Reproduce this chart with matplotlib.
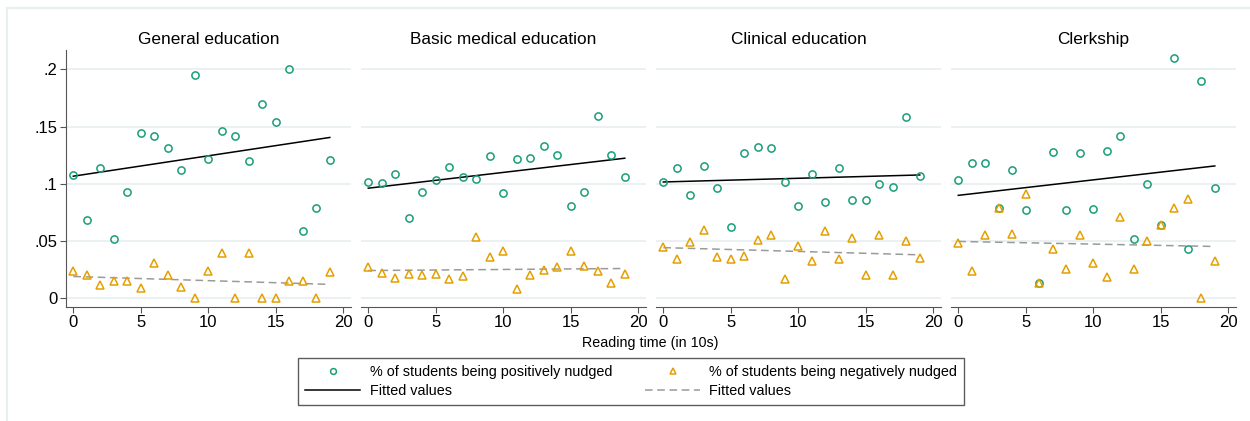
import numpy as np
import matplotlib
matplotlib.use('Agg')
from matplotlib import pyplot as plt
from matplotlib.lines import Line2D

plt.rcParams['font.family'] = ['Liberation Sans', 'DejaVu Sans']

panel_titles = ['General education', 'Basic medical education', 'Clinical education', 'Clerkship']
reading_time = np.arange(20)

pos_general = [0.108, 0.068, 0.114, 0.052, 0.093, 0.144, 0.142, 0.131, 0.112, 0.195,
               0.122, 0.146, 0.142, 0.120, 0.170, 0.154, 0.200, 0.059, 0.079, 0.121]
neg_general = [0.024, 0.020, 0.012, 0.015, 0.015, 0.009, 0.031, 0.020, 0.010, 0.000,
               0.024, 0.040, 0.000, 0.040, 0.000, 0.000, 0.015, 0.015, 0.000, 0.023]

pos_basic = [0.102, 0.101, 0.109, 0.070, 0.093, 0.103, 0.115, 0.106, 0.104, 0.124,
             0.092, 0.122, 0.123, 0.133, 0.125, 0.081, 0.093, 0.159, 0.125, 0.106]
neg_basic = [0.027, 0.022, 0.018, 0.021, 0.020, 0.021, 0.017, 0.0195, 0.054, 0.036,
             0.041, 0.008, 0.020, 0.025, 0.027, 0.041, 0.028, 0.024, 0.013, 0.021]

pos_clinical = [0.102, 0.114, 0.090, 0.116, 0.096, 0.062, 0.127, 0.132, 0.131, 0.102,
                0.081, 0.109, 0.084, 0.114, 0.086, 0.086, 0.100, 0.097, 0.158, 0.107]
neg_clinical = [0.045, 0.034, 0.049, 0.060, 0.036, 0.034, 0.037, 0.051, 0.055, 0.017,
                0.046, 0.033, 0.059, 0.034, 0.053, 0.020, 0.055, 0.020, 0.050, 0.035]

pos_clerkship = [0.103, 0.118, 0.118, 0.079, 0.112, 0.077, 0.013, 0.128, 0.077, 0.127,
                 0.078, 0.129, 0.142, 0.052, 0.100, 0.064, 0.210, 0.043, 0.190, 0.096]
neg_clerkship = [0.048, 0.024, 0.055, 0.079, 0.056, 0.091, 0.013, 0.043, 0.026, 0.055,
                 0.031, 0.019, 0.071, 0.026, 0.050, 0.064, 0.079, 0.087, 0.000, 0.033]

positives = [pos_general, pos_basic, pos_clinical, pos_clerkship]
negatives = [neg_general, neg_basic, neg_clinical, neg_clerkship]

y_ticks = [0, 0.05, 0.1, 0.15, 0.2]
y_tick_labels = ['0', '.05', '.1', '.15', '.2']
x_ticks = [0, 5, 10, 15, 20]

green = '#1a9e77'
orange = '#e69f00'
grid_color = '#e8eff1'

W, H = 1250, 421
fig = plt.figure(figsize=(W / 100, H / 100), dpi=100)
fig.patch.set_facecolor('white')

# light outer frame (only top/left visible in the crop)
fig.add_artist(Line2D([7 / W, 1.0], [1 - 8 / H, 1 - 8 / H], color=grid_color, lw=1.5))
fig.add_artist(Line2D([7 / W, 7 / W], [0, 1 - 8 / H], color=grid_color, lw=1.5))

for i in range(4):
    left = (66 + 295 * i) / W
    ax = fig.add_axes([left, (H - 306.7) / H, 285 / W, 256.7 / H])
    ax.set_xlim(-0.54, 20.57)
    ax.set_ylim(-0.0073, 0.2169)

    for yv in y_ticks:
        ax.axhline(yv, color=grid_color, lw=1.2, zorder=0)

    x = reading_time
    yp = np.array(positives[i])
    yn = np.array(negatives[i])

    ax.plot(x, yp, 'o', mfc='none', mec=green, mew=1.1, ms=5.2, zorder=3)
    ax.plot(x, yn, '^', mfc='none', mec=orange, mew=1.1, ms=5.8, zorder=3)

    bp = np.polyfit(x, yp, 1)
    bn = np.polyfit(x, yn, 1)
    ax.plot(x, np.polyval(bp, x), color='black', lw=1.1, zorder=2)
    ax.plot(x, np.polyval(bn, x), color='#9a9a9a', lw=1.1, dashes=(5, 3), zorder=2)

    ax.set_title(panel_titles[i], fontsize=12.4, pad=4.5)

    for s in ['top', 'right']:
        ax.spines[s].set_visible(False)
    ax.spines['bottom'].set_color('#555555')
    ax.spines['left'].set_color('#555555')

    ax.set_xticks(x_ticks)
    ax.set_xticklabels([str(t) for t in x_ticks])
    ax.tick_params(axis='x', length=4, width=0.8, color='#555555', labelsize=12, pad=2)
    ax.set_yticks(y_ticks)
    if i == 0:
        ax.set_yticklabels(y_tick_labels)
        ax.tick_params(axis='y', length=4, width=0.8, color='#555555', labelsize=12, pad=2)
    else:
        ax.spines['left'].set_visible(False)
        ax.tick_params(axis='y', length=0, labelleft=False)
    ax.set_facecolor('none')

fig.text(650 / W, 1 - 343 / H, 'Reading time (in 10s)', ha='center', va='center', fontsize=10.3)

handles = [
    Line2D([], [], ls='none', marker='o', mfc='none', mec=green, mew=1.1, ms=4.2),
    Line2D([], [], color='black', lw=1.1),
    Line2D([], [], ls='none', marker='^', mfc='none', mec=orange, mew=1.1, ms=4.6),
    Line2D([], [], color='#9a9a9a', lw=1.1, dashes=(5, 3)),
]
labels = ['% of students being positively nudged', 'Fitted values',
          '% of students being negatively nudged', 'Fitted values']
leg = fig.legend(handles, labels, ncol=2, loc='upper left',
                 bbox_to_anchor=(298 / W, 1 - 358 / H), fontsize=10.4,
                 frameon=True, fancybox=False, edgecolor='#333333',
                 handlelength=3.8, handletextpad=0.65, columnspacing=2.3,
                 labelspacing=0.33, borderpad=0.5, borderaxespad=0)
leg.get_frame().set_linewidth(1.0)

plt.savefig('out.png', dpi=100)
plt.close()
